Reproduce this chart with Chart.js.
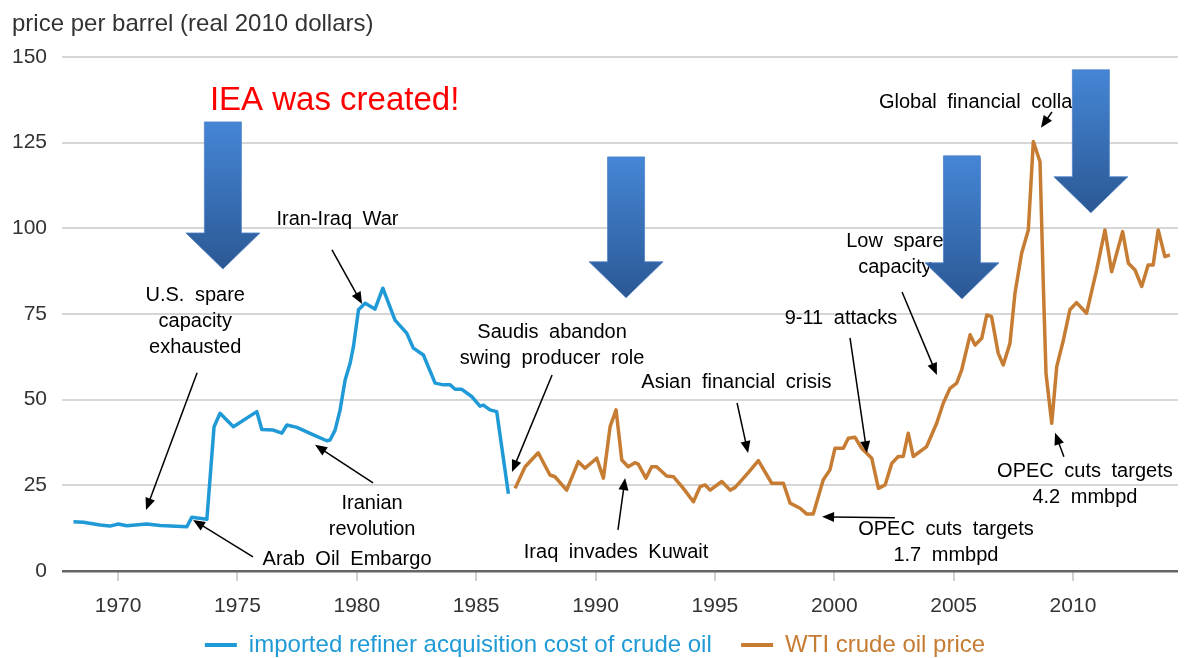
<!DOCTYPE html>
<html>
<head>
<meta charset="utf-8">
<script src="https://cdn.jsdelivr.net/npm/chart.js@4.4.1/dist/chart.umd.min.js"></script>
<style>
  html, body { margin: 0; padding: 0; background: #fff; }
  #wrap { width: 1202px; height: 658px; }
</style>
</head>
<body>
<div id="wrap"><canvas id="chart" width="1202" height="658"></canvas></div>
<script>
const FONT = "'Liberation Sans', Arial, Helvetica, sans-serif";

const yearTicks = [1970, 1975, 1980, 1985, 1990, 1995, 2000, 2005, 2010];

// imported refiner acquisition cost, real 2010 $/bbl
const racYears = [
  1968.13, 1968.55, 1969.25, 1969.66, 1970.01, 1970.36, 1971.2, 1971.76, 1972.88,
  1973.09, 1973.72, 1974.02, 1974.27, 1974.83, 1975.81, 1976.02, 1976.5, 1976.86,
  1977.07, 1977.49, 1978.18, 1978.74, 1978.88, 1979.09, 1979.3, 1979.51, 1979.72,
  1979.86, 1980.07, 1980.35, 1980.76, 1981.09, 1981.6, 1982.09, 1982.37, 1982.79,
  1983.28, 1983.63, 1983.91, 1984.12, 1984.4, 1984.81, 1985.16, 1985.3, 1985.58,
  1985.86, 1986.35
];
const racPrices = [
  14.4, 14.2, 13.4, 13.1, 13.7, 13.2, 13.7, 13.3, 12.9,
  15.7, 15.1, 42.1, 46.0, 42.1, 46.5, 41.3, 41.1, 40.2,
  42.6, 41.9, 39.7, 38.0, 38.2, 41.1, 47.0, 55.7, 60.6,
  65.5, 76.2, 78.1, 76.4, 82.5, 73.2, 69.4, 65.0, 63.0,
  54.8, 54.3, 54.3, 53.0, 53.0, 50.9, 48.1, 48.4, 47.0,
  46.5, 22.5
];

// WTI crude oil price, real 2010 $/bbl
const wtiYears = [
  1986.63, 1987.05, 1987.6, 1988.09, 1988.3, 1988.79, 1989.28, 1989.56, 1990.05,
  1990.33, 1990.61, 1990.86, 1991.1, 1991.37, 1991.65, 1991.79, 1992.11, 1992.35,
  1992.56, 1992.98, 1993.26, 1993.68, 1994.1, 1994.38, 1994.59, 1994.8, 1995.29,
  1995.64, 1995.85, 1996.4, 1996.82, 1997.38, 1997.87, 1998.15, 1998.57, 1998.85,
  1999.12, 1999.54, 1999.82, 2000.03, 2000.38, 2000.59, 2000.87, 2001.15, 2001.57,
  2001.85, 2002.13, 2002.41, 2002.68, 2002.89, 2003.1, 2003.31, 2003.87, 2004.29,
  2004.57, 2004.85, 2005.13, 2005.34, 2005.69, 2005.9, 2006.18, 2006.39, 2006.59,
  2006.87, 2007.08, 2007.36, 2007.57, 2007.85, 2008.13, 2008.34, 2008.62, 2008.76,
  2008.87, 2009.11, 2009.32, 2009.6, 2009.87, 2010.15, 2010.57, 2010.99, 2011.34,
  2011.62, 2012.08, 2012.32, 2012.6, 2012.88, 2013.15, 2013.36, 2013.57, 2013.85,
  2014.06
];
const wtiPrices = [
  24.1, 30.4, 34.5, 28.0, 27.5, 23.6, 31.9, 30.0, 32.9,
  27.1, 42.1, 47.0, 32.4, 30.4, 31.6, 31.2, 27.1, 30.4,
  30.4, 27.7, 27.5, 24.1, 20.2, 24.6, 25.1, 23.6, 26.1,
  23.6, 24.4, 28.7, 32.2, 25.6, 25.6, 19.8, 18.3, 16.6,
  16.6, 26.6, 29.5, 35.8, 35.8, 38.7, 39.0, 35.8, 32.9,
  24.1, 25.1, 31.4, 33.4, 33.4, 40.2, 33.4, 36.3, 43.1,
  49.0, 53.3, 54.8, 58.7, 68.9, 65.9, 67.9, 74.7, 74.2,
  63.5, 60.1, 66.4, 81.0, 92.7, 99.5, 125.3, 119.4, 83.0,
  57.7, 43.1, 59.6, 67.4, 76.2, 78.3, 75.2, 87.8, 99.5,
  87.3, 99.0, 89.8, 87.8, 83.0, 89.3, 89.3, 99.5, 91.7,
  92.2
];

// event labels, placed at (year, price); lines stack downward
const notes = [
  { lines: ["U.S. spare", "capacity", "exhausted"], x: 1973.23, y: 80.5 },
  { lines: ["Iran-Iraq War"], x: 1979.19, y: 102.4 },
  { lines: ["Iranian", "revolution"], x: 1980.64, y: 19.6 },
  { lines: ["Arab Oil Embargo"], x: 1979.59, y: 3.5 },
  { lines: ["Saudis abandon", "swing producer role"], x: 1988.18, y: 69.7 },
  { lines: ["Iraq invades Kuwait"], x: 1990.86, y: 5.3 },
  { lines: ["Asian financial crisis"], x: 1995.9, y: 54.9 },
  { lines: ["9-11 attacks"], x: 2000.28, y: 73.8 },
  { lines: ["Low spare", "capacity"], x: 2002.54, y: 96.0 },
  { lines: ["Global financial collapse"], x: 2001.87, y: 136.6, align: "left" },
  { lines: ["OPEC cuts targets", "1.7 mmbpd"], x: 2004.68, y: 12.0 },
  { lines: ["OPEC cuts targets", "4.2 mmbpd"], x: 2010.5, y: 28.9 }
];

// thin pointers: [fromYear, fromPrice, toYear, toPrice]
const pointers = [
  [1973.31, 57.8, 1971.17, 17.8],
  [1978.96, 93.7, 1980.22, 77.9],
  [1980.68, 25.7, 1978.25, 36.8],
  [1975.65, 4.1, 1973.14, 14.9],
  [1988.18, 57.2, 1986.5, 28.9],
  [1990.94, 12.0, 1991.24, 27.1],
  [1995.93, 49.0, 1996.39, 34.4],
  [2000.66, 68.0, 2001.37, 34.4],
  [2002.84, 81.4, 2004.3, 57.2],
  [2009.12, 133.9, 2008.66, 129.3],
  [2002.54, 15.5, 1999.49, 15.8],
  [2009.62, 33.3, 2009.25, 40.3]
];

// big blue down arrows (IEA emergency releases)
const releaseArrows = [
  { x: 1974.39, top: 131.0, tip: 88.1 },
  { x: 1991.28, top: 120.8, tip: 79.7 },
  { x: 2005.35, top: 121.1, tip: 79.4 },
  { x: 2010.75, top: 146.2, tip: 104.5 }
];

const headline = { text: "IEA was created!", x: 1979.07, y: 137.0 };

function drawPointer(ctx, x1, y1, x2, y2) {
  const a = Math.atan2(y2 - y1, x2 - x1);
  const c = Math.cos(a), s = Math.sin(a);
  ctx.beginPath();
  ctx.moveTo(x1, y1);
  ctx.lineTo(x2 - 9 * c, y2 - 9 * s);
  ctx.stroke();
  ctx.beginPath();
  ctx.moveTo(x2, y2);
  ctx.lineTo(x2 - 12 * c + 5 * s, y2 - 12 * s - 5 * c);
  ctx.lineTo(x2 - 12 * c - 5 * s, y2 - 12 * s + 5 * c);
  ctx.closePath();
  ctx.fill();
}

function drawReleaseArrow(ctx, cx, top, tip) {
  const shaft = 18.5, head = 37, base = tip - 36;
  const g = ctx.createLinearGradient(0, top, 0, tip);
  g.addColorStop(0, "#4586d6");
  g.addColorStop(1, "#2b5894");
  ctx.beginPath();
  ctx.moveTo(cx - shaft, top);
  ctx.lineTo(cx + shaft, top);
  ctx.lineTo(cx + shaft, base);
  ctx.lineTo(cx + head, base);
  ctx.lineTo(cx, tip);
  ctx.lineTo(cx - head, base);
  ctx.lineTo(cx - shaft, base);
  ctx.closePath();
  ctx.fillStyle = g;
  ctx.fill();
  ctx.strokeStyle = "rgba(80,130,200,0.8)";
  ctx.lineWidth = 1;
  ctx.stroke();
}

const annotate = {
  id: "annotate",
  afterDatasetsDraw(chart) {
    const { ctx, scales: { x, y } } = chart;
    ctx.save();

    ctx.fillStyle = "#ff0000";
    ctx.font = "33px " + FONT;
    ctx.textAlign = "center";
    ctx.textBaseline = "middle";
    ctx.fillText(headline.text, x.getPixelForValue(headline.x), y.getPixelForValue(headline.y));

    ctx.fillStyle = "#000";
    ctx.font = "20px " + FONT;
    if ("wordSpacing" in ctx) ctx.wordSpacing = "5px";
    notes.forEach(n => {
      ctx.textAlign = n.align || "center";
      const px = x.getPixelForValue(n.x);
      const py = y.getPixelForValue(n.y);
      n.lines.forEach((t, i) => ctx.fillText(t, px, py + i * 26));
    });
    if ("wordSpacing" in ctx) ctx.wordSpacing = "0px";

    ctx.strokeStyle = "#000";
    ctx.fillStyle = "#000";
    ctx.lineWidth = 1.5;
    pointers.forEach(p => drawPointer(ctx,
      x.getPixelForValue(p[0]), y.getPixelForValue(p[1]),
      x.getPixelForValue(p[2]), y.getPixelForValue(p[3])));

    releaseArrows.forEach(a => drawReleaseArrow(ctx,
      x.getPixelForValue(a.x), y.getPixelForValue(a.top), y.getPixelForValue(a.tip)));

    ctx.restore();
  }
};

const toPoints = (xs, ys) => xs.map((v, i) => ({ x: v, y: ys[i] }));

new Chart(document.getElementById("chart"), {
  type: "line",
  data: {
    datasets: [
      {
        label: "imported refiner acquisition cost of crude oil",
        data: toPoints(racYears, racPrices),
        borderColor: "#1f9ad6",
        backgroundColor: "#1f9ad6",
        borderWidth: 3.5,
        pointRadius: 0,
        tension: 0,
        borderJoinStyle: "round"
      },
      {
        label: "WTI crude oil price",
        data: toPoints(wtiYears, wtiPrices),
        borderColor: "#c67c32",
        backgroundColor: "#c67c32",
        borderWidth: 3.5,
        pointRadius: 0,
        tension: 0,
        borderJoinStyle: "round"
      }
    ]
  },
  options: {
    responsive: false,
    animation: false,
    layout: { padding: { left: 12, right: 24, top: 0, bottom: -9 } },
    plugins: {
      title: {
        display: true,
        text: "price per barrel (real 2010 dollars)",
        align: "start",
        color: "#333",
        font: { family: FONT, size: 24, weight: "normal" },
        padding: { top: 10, bottom: 18 }
      },
      legend: {
        position: "bottom",
        labels: {
          boxWidth: 32,
          boxHeight: 4,
          padding: 16,
          font: { family: FONT, size: 24 },
          generateLabels(chart) {
            const sets = chart.data.datasets;
            return sets.map((ds, i) => ({
              // two trailing spaces widen the gap before the next entry
              text: i < sets.length - 1 ? ds.label + "  " : ds.label,
              fillStyle: ds.borderColor,
              strokeStyle: ds.borderColor,
              fontColor: ds.borderColor,
              lineWidth: 0,
              hidden: false,
              datasetIndex: i
            }));
          }
        }
      },
      tooltip: { enabled: false }
    },
    scales: {
      x: {
        type: "linear",
        min: 1967.65,
        max: 2014.4,
        afterBuildTicks: s => { s.ticks = yearTicks.map(v => ({ value: v })); },
        afterFit: s => { s.height = 46; },
        grid: { drawOnChartArea: false, drawTicks: true, tickLength: 10, color: "#d0d0d0", lineWidth: 2 },
        border: { display: false },
        ticks: {
          padding: 13,
          color: "#333",
          font: { family: FONT, size: 21 },
          maxRotation: 0,
          callback: v => String(v)
        }
      },
      y: {
        min: 0,
        max: 150,
        afterFit: s => { s.width = 50; },
        ticks: { stepSize: 25, padding: 15, color: "#333", font: { family: FONT, size: 21 } },
        grid: {
          drawTicks: false,
          color: c => (c.tick.value === 0 ? "#666" : "#d6d6d6"),
          lineWidth: c => (c.tick.value === 0 ? 2.5 : 2)
        },
        border: { display: false }
      }
    }
  },
  plugins: [annotate]
});
</script>
</body>
</html>
